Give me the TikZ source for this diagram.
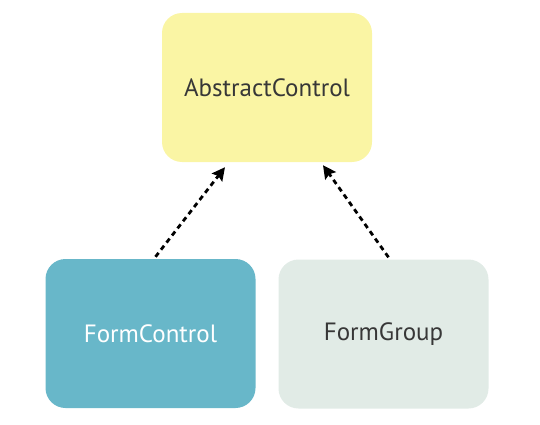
\documentclass[tikz,border=0pt]{standalone}
\usepackage{fontspec}
\setmainfont{PT Sans}
\usetikzlibrary{arrows.meta,positioning}
\definecolor{acyellow}{RGB}{250,245,164}
\definecolor{fcteal}{RGB}{104,183,201}
\definecolor{fggrey}{RGB}{225,235,230}
\definecolor{txtgrey}{RGB}{55,55,55}
\tikzstyle{classbox} = [rounded corners=20pt,minimum width=210pt,minimum height=149pt,inner sep=0pt,font=\fontsize{25}{30}\selectfont,text=txtgrey]
\tikzstyle{arrow} = [line width=2.8pt,dash pattern=on 5pt off 4pt,-{Stealth[length=13pt,width=13pt,inset=2pt]}]

\begin{document}
\begin{tikzpicture}[x=1pt,y=-1pt]
\useasboundingbox (0,0) rectangle (540,425);

% Classes
\node[classbox, fill=acyellow] (ac) at (267,87.5) {AbstractControl};
\node[classbox, fill=fcteal, text=white] (fc) at (150.5,333.5) {FormControl};
\node[classbox, fill=fggrey] (fg) at (383.5,334) {FormGroup};

% Inheritance
\draw[arrow] ([xshift=5pt,yshift=2pt]fc.north) -- ([xshift=-42pt,yshift=-5pt]ac.south);
\draw[arrow] ([xshift=5pt,yshift=2pt]fg.north) -- ([xshift=56pt,yshift=-3pt]ac.south);
\end{tikzpicture}
\end{document}
